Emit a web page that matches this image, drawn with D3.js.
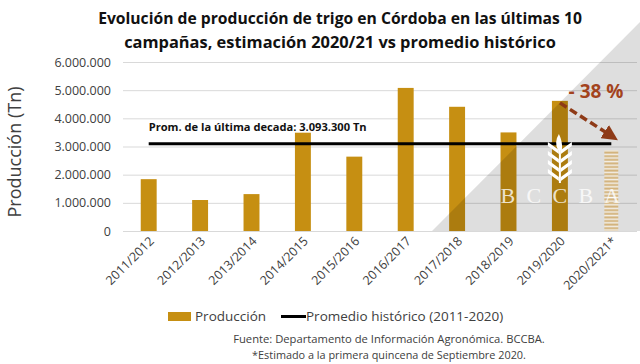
<!DOCTYPE html>
<html>
<head>
<meta charset="UTF-8">
<script src="https://d3js.org/d3.v7.min.js"></script>
<style>
  body { margin: 0; background: #fff; }
  text { font-family: "Open Sans", sans-serif; }
</style>
</head>
<body>
<svg width="640" height="364"></svg>
<script>
// campaigns and wheat production (Tn), last one is the estimate
const campaigns = ["2011/2012", "2012/2013", "2013/2014", "2014/2015", "2015/2016",
                   "2016/2017", "2017/2018", "2018/2019", "2019/2020", "2020/2021*"];
const production = [1840000, 1100000, 1310000, 3490000, 2640000,
                    5080000, 4410000, 3500000, 4620000, 2870000];
const average = 3093300;
const yTicks = [0, 1000000, 2000000, 3000000, 4000000, 5000000, 6000000];
const titleLines = ["Evolución de producción de trigo en Córdoba en las últimas 10",
                    "campañas, estimación 2020/21 vs promedio histórico"];
const footLines = ["Fuente: Departamento de Información Agronómica. BCCBA.",
                   "*Estimado a la primera quincena de Septiembre 2020."];

const gold = "#c68f12";
const textCol = "#404040";

const svg = d3.select("svg");

// plot area
const plotL = 123, plotR = 637, plotT = 62, plotB = 231;

const x = d3.scaleBand().domain(campaigns).range([plotL, plotR])
  .paddingInner(0.69).paddingOuter(0.345);
const y = d3.scaleLinear().domain([0, 6000000]).range([plotB, plotT]);
const fmt = d3.formatLocale({ decimal: ",", thousands: ".", grouping: [3], currency: ["$", ""] }).format(",d");
const cx = d => x(d) + x.bandwidth() / 2;

// helper: shrink/grow font so a text fits a given width
function fitWidth(sel, w) {
  sel.each(function () {
    const len = this.getComputedTextLength();
    const fs = parseFloat(d3.select(this).attr("font-size"));
    d3.select(this).attr("font-size", (fs * w / len).toFixed(2));
  });
}

// title
svg.selectAll(".title").data(titleLines).enter().append("text")
  .attr("class", "title")
  .attr("x", 340).attr("y", (d, i) => 24 + i * 24)
  .attr("text-anchor", "middle").attr("font-weight", "bold")
  .attr("font-size", 18).attr("fill", "#111")
  .text(d => d)
  .each(function (d, i) { fitWidth(d3.select(this), i === 0 ? 484 : 432); });

// gridlines
svg.append("g").selectAll("line").data(yTicks).enter().append("line")
  .attr("x1", plotL).attr("x2", plotR)
  .attr("y1", d => y(d) + 0.5).attr("y2", d => y(d) + 0.5)
  .attr("stroke", "#d9d9d9").attr("stroke-width", 1);

// y tick labels
svg.append("g").selectAll("text").data(yTicks).enter().append("text")
  .attr("x", 111).attr("y", d => y(d)).attr("dy", "0.36em")
  .attr("text-anchor", "end").attr("font-size", 12.5).attr("fill", textCol)
  .text(d => fmt(d));

// y axis title
svg.append("text")
  .attr("transform", "translate(21,152) rotate(-90)")
  .attr("text-anchor", "middle").attr("font-size", 18).attr("fill", textCol)
  .text("Producción (Tn)");

// bars (measured campaigns)
const measured = campaigns.slice(0, 9);
svg.append("g").selectAll("rect").data(measured).enter().append("rect")
  .attr("x", d => x(d)).attr("width", x.bandwidth())
  .attr("y", (d, i) => y(production[i]))
  .attr("height", (d, i) => plotB - y(production[i]))
  .attr("fill", gold);

// grey watermark triangle over the right side
svg.append("polygon")
  .attr("points", `432,${plotB} 640,${plotB} 640,22`)
  .attr("fill", "#000").attr("fill-opacity", 0.13);

// striped pattern for the estimate
const defs = svg.append("defs");
const pat = defs.append("pattern").attr("id", "stripes")
  .attr("patternUnits", "userSpaceOnUse").attr("width", 20).attr("height", 3.6);
pat.append("rect").attr("width", 20).attr("height", 3.6).attr("fill", "#f3efe8");
pat.append("rect").attr("y", 0.4).attr("width", 20).attr("height", 2).attr("fill", "#d2b27a");

const last = campaigns[9];
svg.append("rect")
  .attr("x", x(last) + 1).attr("width", x.bandwidth() - 2)
  .attr("y", y(production[9])).attr("height", plotB - y(production[9]))
  .attr("fill", "url(#stripes)");

// historic average line
svg.append("line")
  .attr("x1", cx(campaigns[0])).attr("x2", cx(last))
  .attr("y1", y(average)).attr("y2", y(average))
  .attr("stroke", "#000").attr("stroke-width", 3);

svg.append("text")
  .attr("x", cx(campaigns[0])).attr("y", y(average) - 13)
  .attr("font-size", 10.5).attr("font-weight", "bold").attr("fill", "#111")
  .text("Prom. de la última decada: 3.093.300 Tn")
  .call(fitWidth, 218);

// wheat logo (BCCBA watermark)
const logo = svg.append("g")
  .attr("transform", `translate(${cx(campaigns[8])},0)`)
  .attr("fill", "#fff");
[148, 157, 166, 175].forEach(gy => {
  logo.append("path").attr("d", `M-1,${gy + 6} L-12,${gy - 2} L-12,${gy - 6} L-1,${gy + 2} Z`);
  logo.append("path").attr("d", `M1,${gy + 6} L12,${gy - 2} L12,${gy - 6} L1,${gy + 2} Z`);
});
logo.append("path").attr("d", "M-2,150 Q-6,142 -1,134 Q3,142 2,150 Z");
logo.append("rect").attr("x", -1).attr("y", 145).attr("width", 2).attr("height", 38);

const letters = ["B", "C", "C", "B", "A"];
svg.append("g").selectAll("text").data(letters).enter().append("text")
  .attr("x", (d, i) => cx(campaigns[8]) - 52 + i * 26)
  .attr("y", 203).attr("text-anchor", "middle")
  .attr("font-size", 22)
  .attr("fill", "#fff").attr("fill-opacity", 0.8)
  .style("font-family", "'Liberation Serif', serif")
  .text(d => d);

// -38 % arrow
const arrowCol = "#8e3a17";
defs.append("marker").attr("id", "head")
  .attr("viewBox", "0 0 10 10").attr("refX", 5).attr("refY", 5)
  .attr("markerWidth", 4.5).attr("markerHeight", 4.5).attr("orient", "auto")
  .append("path").attr("d", "M0,0 L10,5 L0,10 Z").attr("fill", arrowCol);

svg.append("line")
  .attr("x1", cx(campaigns[8])).attr("y1", y(production[8]) + 2)
  .attr("x2", cx(last)).attr("y2", y(average) - 8)
  .attr("stroke", arrowCol).attr("stroke-width", 3.5)
  .attr("stroke-dasharray", "8,4")
  .attr("marker-end", "url(#head)");

svg.append("text")
  .attr("x", 596).attr("y", 98).attr("text-anchor", "middle")
  .attr("font-size", 19).attr("font-weight", "bold").attr("fill", "#a3431d")
  .text("- 38 %");

// x labels
svg.append("g").selectAll("text").data(campaigns).enter().append("text")
  .attr("transform", d => `translate(${cx(d) + 6},${plotB + 11}) rotate(-45)`)
  .attr("text-anchor", "end").attr("font-size", 12.5).attr("fill", textCol)
  .text(d => d);

// legend
const lg = svg.append("g");
lg.append("rect").attr("x", 168).attr("y", 312).attr("width", 23).attr("height", 9).attr("fill", gold);
lg.append("text").attr("x", 195).attr("y", 321).attr("font-size", 13.5).attr("fill", textCol).text("Producción");
lg.append("line").attr("x1", 281).attr("x2", 306).attr("y1", 316.5).attr("y2", 316.5)
  .attr("stroke", "#000").attr("stroke-width", 3);
lg.append("text").attr("x", 306).attr("y", 321).attr("font-size", 13.5).attr("fill", textCol).text("Promedio histórico (2011-2020)");

// footer
svg.append("g").selectAll("text").data(footLines).enter().append("text")
  .attr("x", 389).attr("y", (d, i) => 343 + i * 16)
  .attr("text-anchor", "middle").attr("font-size", 11).attr("fill", textCol)
  .text(d => d)
  .each(function (d, i) { fitWidth(d3.select(this), i === 0 ? 312 : 274); });
</script>
</body>
</html>
